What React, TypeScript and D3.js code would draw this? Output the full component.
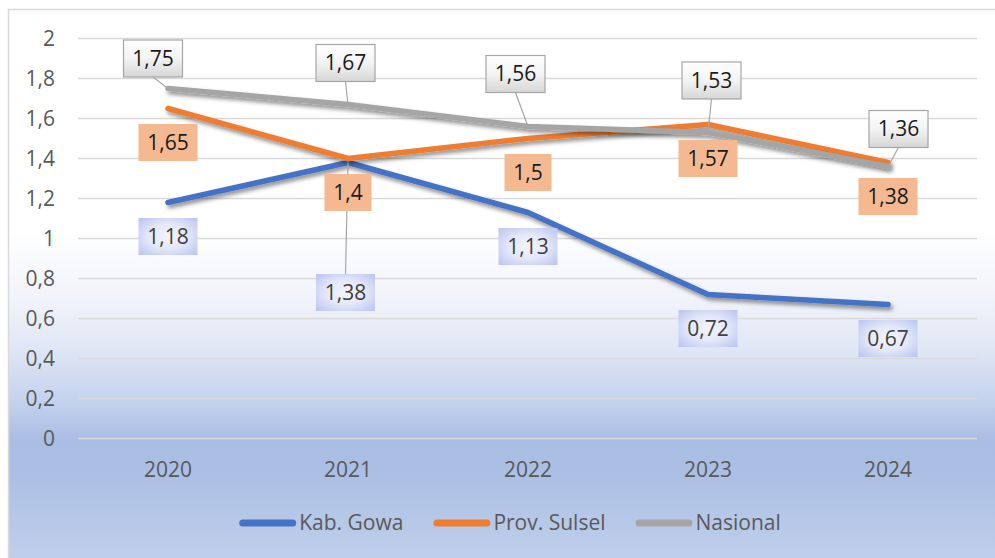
import React, { useEffect, useRef } from "react";
import * as d3 from "d3";

const years = ["2020", "2021", "2022", "2023", "2024"];
const gowa = [1.18, 1.38, 1.13, 0.72, 0.67];
const sulsel = [1.65, 1.4, 1.5, 1.57, 1.38];
const nasional = [1.75, 1.67, 1.56, 1.53, 1.36];
const yTicks = [0, 0.2, 0.4, 0.6, 0.8, 1, 1.2, 1.4, 1.6, 1.8, 2];
const seriesNames = ["Kab. Gowa", "Prov. Sulsel", "Nasional"];

// label offsets (box centre relative to point), layout only
const gowaOffsets: [number, number][] = [[0, 34], [-2.5, 130], [0, 34], [0, 34], [0, 34]];
const sulselOffsets: [number, number][] = [[0, 34], [0, 34], [0, 34], [0, 34], [0, 34]];
const nasOffsets: [number, number][] = [[-15, -30], [-2.5, -41.5], [-12.5, -52.5], [3.5, -52], [10.5, -37.5]];

const FONT = "'Open Sans', 'Noto Sans', sans-serif";

const fmt = (v: number) => String(v).replace(".", ",");

export default function App() {
  const ref = useRef<SVGSVGElement>(null);
  useEffect(() => {
    const svg = d3.select(ref.current!);
    svg.selectAll("*").remove();
    const defs = svg.append("defs");

    const bg = defs.append("linearGradient").attr("id", "bg").attr("gradientUnits", "userSpaceOnUse")
      .attr("x1", 0).attr("x2", 0).attr("y1", 9).attr("y2", 558);
    [[0, "#ffffff"], [0.4, "#ffffff"], [0.53, "#f1f3fa"], [0.62, "#dfe6f4"], [0.71, "#c5d3ee"],
     [0.785, "#aabde3"], [0.84, "#abbee3"], [1, "#bfcfeb"]].forEach(([o, c]) =>
      bg.append("stop").attr("offset", o as number).attr("stop-color", c as string));

    const nasG = defs.append("linearGradient").attr("id", "nasG").attr("x1", 0).attr("x2", 0).attr("y1", 0).attr("y2", 1);
    nasG.append("stop").attr("offset", 0).attr("stop-color", "#ffffff");
    nasG.append("stop").attr("offset", 0.5).attr("stop-color", "#f3f3f3");
    nasG.append("stop").attr("offset", 1).attr("stop-color", "#d6d6d6");

    const blueG = defs.append("radialGradient").attr("id", "blueG").attr("cx", 0.5).attr("cy", 0.5).attr("r", 0.75);
    blueG.append("stop").attr("offset", 0).attr("stop-color", "#f3f4fc");
    blueG.append("stop").attr("offset", 0.45).attr("stop-color", "#e3e7f9");
    blueG.append("stop").attr("offset", 1).attr("stop-color", "#b3bfee");

    const shadow = defs.append("filter").attr("id", "shadow").attr("x", "-10%").attr("y", "-30%").attr("width", "130%").attr("height", "180%");
    shadow.append("feDropShadow").attr("dx", 2).attr("dy", 3).attr("stdDeviation", 2.2)
      .attr("flood-color", "#000").attr("flood-opacity", 0.45);

    svg.append("rect").attr("x", 8.5).attr("y", 9.5).attr("width", 1010).attr("height", 570)
      .attr("fill", "url(#bg)").attr("stroke", "#d9d9d9").attr("stroke-width", 1.5);

    const x = d3.scaleBand().domain(years).range([78, 978]);
    const cx = (d: string) => (x(d) as number) + x.bandwidth() / 2;
    const y = d3.scaleLinear().domain([0, 2]).range([438.5, 38.5]);

    // gridlines
    svg.append("g").selectAll("line").data(yTicks).join("line")
      .attr("x1", 78).attr("x2", 977).attr("y1", d => y(d)).attr("y2", d => y(d))
      .attr("stroke", "#d9d9d9").attr("stroke-width", 1.5);

    // y labels
    svg.append("g").selectAll("text").data(yTicks).join("text")
      .attr("x", 55).attr("y", d => y(d)).attr("text-anchor", "end").attr("dy", "0.35em")
      .attr("font-family", FONT).attr("font-size", 21).attr("fill", "#595959")
      .text(d => fmt(d));

    // x labels
    svg.append("g").selectAll("text").data(years).join("text")
      .attr("x", d => cx(d)).attr("y", 470).attr("text-anchor", "middle").attr("dy", "0.35em")
      .attr("font-family", FONT).attr("font-size", 21).attr("fill", "#595959")
      .text(d => d);

    const series = [
      { name: seriesNames[0], values: gowa, color: "#4472c4", offsets: gowaOffsets, kind: "blue" },
      { name: seriesNames[1], values: sulsel, color: "#ed7d31", offsets: sulselOffsets, kind: "orange" },
      { name: seriesNames[2], values: nasional, color: "#a5a5a5", offsets: nasOffsets, kind: "gray" },
    ];

    const line = d3.line<number>().x((_, i) => cx(years[i])).y(d => y(d));
    series.forEach(s => {
      svg.append("path").attr("d", line(s.values)).attr("fill", "none").attr("stroke", s.color)
        .attr("stroke-width", 5.5).attr("stroke-linejoin", "round").attr("stroke-linecap", "round")
        .attr("filter", "url(#shadow)");
    });

    // labels
    const lab = svg.append("g");
    series.forEach(s => {
      s.values.forEach((v, i) => {
        const px = cx(years[i]), py = y(v);
        const [dx, dy] = s.offsets[i];
        const bx = px + dx, by = py + dy;
        const t = fmt(v);
        const w = 12 * t.length + 11, h = 37;
        if (Math.abs(dy) > 40 || s.kind === "gray") {
          const ly = dy < 0 ? by + h / 2 : by - h / 2;
          lab.append("line").attr("x1", bx).attr("y1", ly).attr("x2", px).attr("y2", py)
            .attr("stroke", "#a6a6a6").attr("stroke-width", 1.2);
        }
        const fill = s.kind === "blue" ? "url(#blueG)" : s.kind === "orange" ? "#f4b990" : "url(#nasG)";
        lab.append("rect").attr("x", bx - w / 2).attr("y", by - h / 2).attr("width", w).attr("height", h)
          .attr("fill", fill).attr("stroke", s.kind === "gray" ? "#a6a6a6" : "none").attr("stroke-width", 1.2);
        lab.append("text").attr("x", bx).attr("y", by).attr("dy", "0.35em").attr("text-anchor", "middle")
          .attr("font-family", FONT).attr("font-size", 21).attr("fill", s.kind === "blue" ? "#404040" : "#1a1a1a")
          .text(t);
      });
    });

    // legend
    const leg = svg.append("g");
    const items = series.map(s => {
      const g = leg.append("g");
      g.append("line").attr("x1", 3.5).attr("x2", 53.5).attr("y1", 0).attr("y2", 0)
        .attr("stroke", s.color).attr("stroke-width", 7).attr("stroke-linecap", "round");
      const tx = g.append("text").attr("x", 60).attr("y", 0).attr("dy", "0.35em")
        .attr("font-family", FONT).attr("font-size", 21).attr("fill", "#595959").text(s.name);
      const tw = (tx.node() as SVGTextElement).getComputedTextLength();
      return { g, w: 60 + tw };
    });
    const gap = 30;
    const total = items.reduce((a, b) => a + b.w, 0) + gap * (items.length - 1);
    let start = 510 - total / 2;
    items.forEach(it => {
      it.g.attr("transform", `translate(${start},523)`);
      start += it.w + gap;
    });
  }, []);
  return <svg ref={ref} width={995} height={558} style={{ position: "absolute", left: 0, top: 0 }} />;
}
